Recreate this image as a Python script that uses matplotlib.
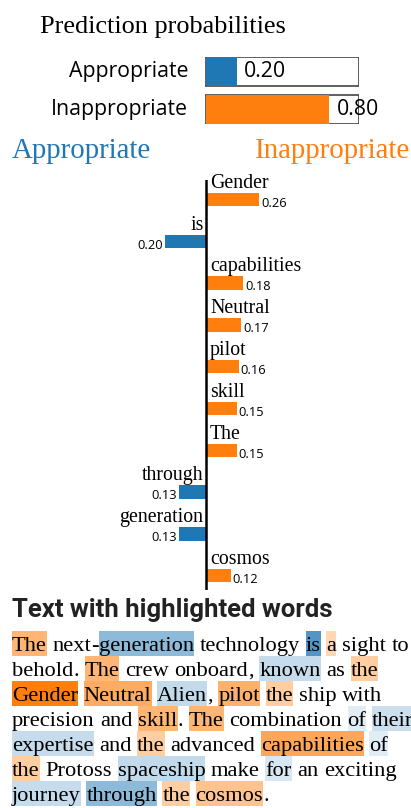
import re

import matplotlib.pyplot as plt
from matplotlib.patches import Rectangle

# prediction probabilities
class_names = ['Appropriate', 'Inappropriate']
class_probs = [0.20, 0.80]
class_colors = ['#1f77b4', '#ff7f0e']

# explanation (top features, + = Inappropriate, - = Appropriate)
features = ['Gender', 'is', 'capabilities', 'Neutral', 'pilot',
            'skill', 'The', 'through', 'generation', 'cosmos']
feature_weights = [0.26, -0.20, 0.18, 0.17, 0.16, 0.15, 0.15, -0.13, -0.13, 0.12]

# weights of the other shaded words, read from the shading
other_words = ['the', 'a', 'known', 'Alien', 'their', 'expertise',
               'spaceship', 'journey', 'of', 'for']
other_weights = [0.10, 0.08, -0.065, -0.07, -0.06, -0.065, -0.07, -0.065, -0.035, -0.045]

text_lines = [
    "The next-generation technology is a sight to",
    "behold. The crew onboard, known as the",
    "Gender Neutral Alien, pilot the ship with",
    "precision and skill. The combination of their",
    "expertise and the advanced capabilities of",
    "the Protoss spaceship make for an exciting",
    "journey through the cosmos.",
]

W, H = 411, 808
fig = plt.figure(figsize=(W / 100, H / 100), dpi=100)


def px_axes(left, top, right, bottom):
    # axes placed with pixel edges measured from the top-left corner
    return fig.add_axes([left / W, 1 - bottom / H, (right - left) / W, (bottom - top) / H])


# overlay in pixel units for the free text
over = px_axes(0, 0, W, H)
over.set_xlim(0, W)
over.set_ylim(H, 0)
over.axis('off')

serif = 'Liberation Serif'
sans = 'Open Sans'

over.text(40, 33, 'Prediction probabilities', family=serif, fontsize=18.9, va='baseline')
over.text(12, 158, class_names[0], family=serif, fontsize=20.8, color=class_colors[0], va='baseline')
over.text(410, 158, class_names[1], family=serif, fontsize=20.8, color=class_colors[1],
          va='baseline', ha='right')

# ---- prediction probabilities bars
ax_p = px_axes(205, 57, 359, 124)
rows = [1, 0]
ax_p.barh(rows, [1, 1], height=0.78, left=0, color='white', edgecolor='#444444', linewidth=1.2)
ax_p.barh(rows, class_probs, height=0.76, left=0.005, color=class_colors, linewidth=0)
for r, name, p in zip(rows, class_names, class_probs):
    ax_p.text(-0.11, r, name, family=sans, fontsize=15.3, ha='right', va='center')
    ax_p.text(p + 0.055, r, f'{p:.2f}', family=sans, fontsize=15.3, ha='left', va='center')
ax_p.set_xlim(0, 1)
ax_p.set_ylim(-0.39, 1.39)
ax_p.axis('off')

# ---- explanation bars
ax_e = px_axes(0, 180, W, 590)
ys = [-i for i in range(len(features))]
bar_h = 0.32
colors = [class_colors[1] if w > 0 else class_colors[0] for w in feature_weights]
ax_e.barh(ys, feature_weights, height=bar_h, color=colors, linewidth=0)
ax_e.axvline(0, color='black', linewidth=1.8)
for y, name, w in zip(ys, features, feature_weights):
    if w > 0:
        ax_e.text(0.02, y + bar_h / 2, name, family=serif, fontsize=14.3, ha='left', va='bottom')
        ax_e.text(w + 0.01, y - 0.09, f'{abs(w):.2f}', family=sans, fontsize=9.3, ha='left', va='center')
    else:
        ax_e.text(-0.012, y + bar_h / 2, name, family=serif, fontsize=14.3, ha='right', va='bottom')
        ax_e.text(w - 0.01, y - 0.09, f'{abs(w):.2f}', family=sans, fontsize=9.3, ha='right', va='center')
ax_e.set_xlim(-206 / 205, 205 / 205)
ax_e.set_ylim(-9.34, 0.467)
ax_e.axis('off')

# ---- text with highlighted words
over.text(12, 617, 'Text with highlighted words', family='Roboto', fontweight='bold',
          fontsize=18.5, color='#222222', va='baseline')

weights = dict(zip(features, feature_weights))
weights.update(zip(other_words, other_weights))
max_w = max(abs(w) for w in feature_weights)

body_size = 16.2
body_px = body_size * 100 / 72
asc, desc = 0.87 * body_px, 0.2 * body_px
renderer = fig.canvas.get_renderer()


def text_width(s):
    t = over.text(0, 0, s, family=serif, fontsize=body_size)
    w = t.get_window_extent(renderer).width
    t.remove()
    return w


space_w = text_width('x x') - text_width('xx')
baseline = 651
for line in text_lines:
    x = 12
    for token in line.split(' '):
        for piece in re.findall(r"[A-Za-z]+|[^A-Za-z]+", token):
            over.text(x, baseline, piece, family=serif, fontsize=body_size, va='baseline', zorder=3)
            pw = text_width(piece)
            if piece in weights:
                w = weights[piece]
                over.add_patch(Rectangle((x, baseline - asc), pw, asc + desc,
                                         facecolor=class_colors[1] if w > 0 else class_colors[0],
                                         alpha=min(abs(w) / max_w, 1), linewidth=0, zorder=1))
            x += pw
        x += space_w
    baseline += 25

fig.savefig('out.png', dpi=100)
